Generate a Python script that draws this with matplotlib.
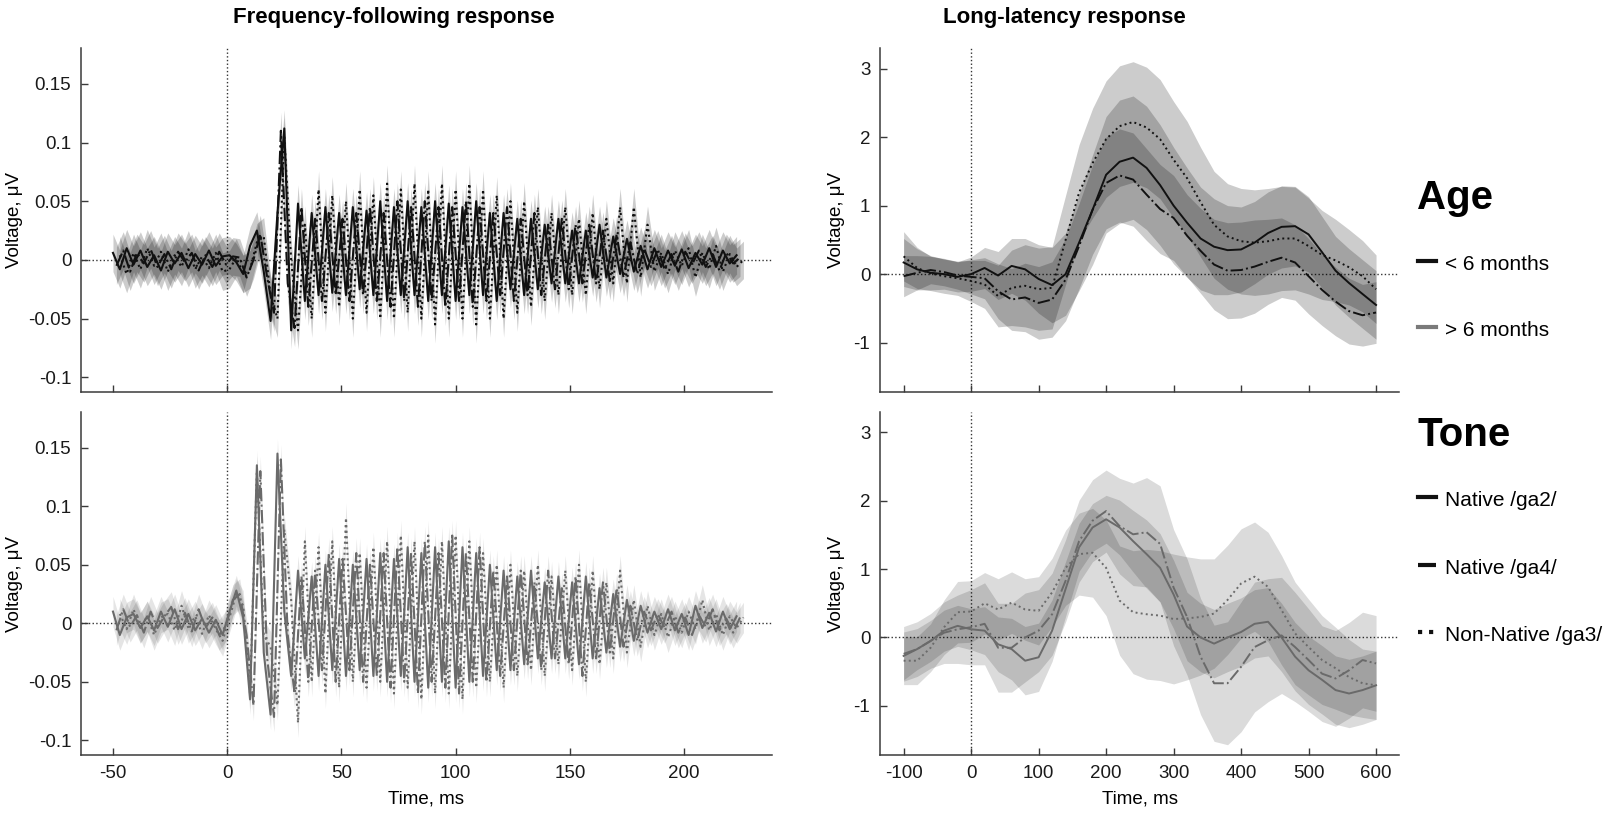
import numpy as np
import matplotlib.pyplot as plt
from matplotlib.lines import Line2D

plt.rcParams['font.family'] = ['Liberation Sans', 'DejaVu Sans']
plt.rcParams['axes.unicode_minus'] = False

# ---------------- FFR data (values every 3 ms, tones start at slightly different times) ----------------
ffr_step = 3.0
ffr_start = {'ga2': -50.0, 'ga4': -48.5, 'ga3': -47.0}

# < 6 months (top row)
ffr_young_ga2 = [0.006, -0.008, 0.01, -0.004, 0.008, -0.006, 0.004, -0.009, 0.007, -0.003, 0.006, -0.007, 0.005, -0.004, 0.008, -0.005, 0.003,
                 0.004, -0.002, -0.012, 0.012, 0.025, -0.01, -0.052, 0.04, 0.112, -0.06,
                 0.048, -0.035, 0.04, -0.03, 0.045, -0.028, 0.04, -0.03, 0.045, -0.025, 0.042, -0.03, 0.05, -0.035, 0.045, -0.03,
                 0.05, -0.03, 0.045, -0.035, 0.05, -0.03, 0.048, -0.035, 0.045, -0.03, 0.05, -0.03, 0.04, -0.035, 0.04, -0.025,
                 0.035, -0.03, 0.035, -0.025, 0.03, -0.02, 0.035, -0.02, 0.025, -0.02, 0.025, -0.015, 0.03, -0.015, 0.02, -0.012,
                 0.018, -0.01, 0.012,
                 -0.008, 0.01, -0.006, 0.008, -0.005, 0.009, -0.007, 0.006, -0.004, 0.01, -0.006, 0.008, -0.003, 0.004]
ffr_young_ga4 = [-0.005, 0.008, -0.01, 0.006, -0.003, 0.009, -0.006, 0.005, -0.008, 0.007, -0.002, 0.006, -0.009, 0.004, -0.006, 0.007, -0.004,
                 0.003, 0.002, -0.015, 0.0, 0.022, -0.015, -0.045, 0.11, -0.02, -0.058,
                 0.045, -0.04, 0.035, -0.035, 0.04, -0.03, 0.035, -0.035, 0.04, -0.03, 0.045, -0.035, 0.04, -0.04, 0.05, -0.035,
                 0.045, -0.04, 0.05, -0.035, 0.045, -0.04, 0.045, -0.035, 0.05, -0.04, 0.045, -0.035, 0.04, -0.03, 0.045, -0.035,
                 0.035, -0.03, 0.04, -0.03, 0.03, -0.025, 0.035, -0.025, 0.03, -0.02, 0.03, -0.02, 0.025, -0.018, 0.022, -0.015,
                 0.015, -0.012, 0.01,
                 -0.006, 0.009, -0.008, 0.005, -0.01, 0.007, -0.004, 0.008, -0.006, 0.005, -0.009, 0.006, -0.003, 0.002]
ffr_young_ga3 = [0.004, -0.012, 0.006, -0.008, 0.01, -0.005, 0.007, -0.01, 0.004, -0.006, 0.009, -0.008, 0.003, -0.007, 0.006, -0.01, -0.008,
                 0.002, -0.012, -0.008, 0.015, 0.02, -0.03, -0.05, 0.105, 0.0, -0.06,
                 0.03, -0.05, 0.06, -0.045, 0.055, -0.04, 0.05, -0.05, 0.06, -0.045, 0.055, -0.05, 0.065, -0.05, 0.06, -0.045,
                 0.065, -0.05, 0.06, -0.055, 0.065, -0.05, 0.06, -0.05, 0.065, -0.055, 0.06, -0.05, 0.055, -0.05, 0.05, -0.045,
                 0.05, -0.04, 0.045, -0.035, 0.04, -0.03, 0.045, -0.03, 0.035, -0.03, 0.04, -0.025, 0.035, -0.02, 0.045, -0.02,
                 0.045, -0.015, 0.03,
                 -0.01, 0.006, -0.012, 0.008, -0.005, 0.01, -0.015, 0.006, -0.008, 0.012, -0.01, 0.005, -0.006, 0.0]

# > 6 months (bottom row)
ffr_old_ga2 = [0.01, -0.01, 0.005, 0.008, -0.004, 0.006, -0.006, 0.01, -0.003, 0.012, -0.005, 0.008, -0.006, 0.004, -0.008, 0.003, -0.01,
               0.01, 0.028, 0.005, -0.065, 0.135, -0.025, -0.078, 0.145, 0.01, -0.045,
               0.045, -0.03, 0.04, -0.045, 0.05, -0.04, 0.055, -0.045, 0.05, -0.04, 0.055, -0.045, 0.06, -0.05, 0.055, -0.045,
               0.065, -0.05, 0.06, -0.055, 0.065, -0.05, 0.07, -0.055, 0.065, -0.05, 0.06, -0.045, 0.05, -0.04, 0.045, -0.04,
               0.04, -0.035, 0.045, -0.03, 0.035, -0.03, 0.04, -0.03, 0.035, -0.035, 0.04, -0.03, 0.03, -0.025, 0.025, -0.02,
               0.02, -0.015, 0.015,
               -0.008, 0.01, -0.005, 0.012, -0.006, 0.008, -0.01, 0.015, -0.004, 0.009, -0.007, 0.01, -0.005, 0.006]
ffr_old_ga4 = [-0.006, 0.012, -0.003, 0.007, -0.008, 0.01, -0.004, 0.006, 0.014, -0.005, 0.009, -0.007, 0.012, -0.004, 0.005, -0.01, -0.002,
               0.02, 0.025, -0.01, -0.07, 0.13, -0.03, -0.08, 0.14, -0.01, -0.06,
               0.04, -0.05, 0.045, -0.04, 0.06, -0.05, 0.055, -0.04, 0.06, -0.05, 0.05, -0.045, 0.06, -0.055, 0.065, -0.05,
               0.06, -0.06, 0.07, -0.05, 0.06, -0.055, 0.075, -0.06, 0.06, -0.05, 0.065, -0.05, 0.045, -0.045, 0.04, -0.04,
               0.045, -0.035, 0.035, -0.04, 0.045, -0.03, 0.03, -0.035, 0.04, -0.045, 0.035, -0.03, 0.035, -0.025, 0.03, -0.02,
               0.015, -0.015, 0.01,
               -0.006, 0.008, -0.004, 0.01, -0.008, 0.005, -0.01, 0.007, -0.003, 0.012, -0.006, 0.004, -0.008, 0.005]
ffr_old_ga3 = [0.008, -0.005, 0.012, -0.004, 0.006, -0.01, 0.005, 0.008, -0.006, 0.015, -0.004, 0.006, -0.009, 0.007, -0.005, -0.015, 0.005,
               0.025, 0.015, -0.06, 0.13, -0.01, -0.02, -0.07, 0.08, 0.02, -0.085,
               0.07, -0.05, 0.065, -0.06, 0.07, -0.055, 0.09, -0.05, 0.06, -0.055, 0.065, -0.05, 0.07, -0.06, 0.075, -0.055,
               0.07, -0.065, 0.075, -0.06, 0.07, -0.06, 0.075, -0.065, 0.07, -0.055, 0.06, -0.05, 0.05, -0.055, 0.05, -0.045,
               0.045, -0.04, 0.05, -0.045, 0.04, -0.035, 0.045, -0.04, 0.05, -0.05, 0.045, -0.035, 0.035, -0.03, 0.045, -0.025,
               0.02, -0.02, 0.015,
               -0.01, 0.008, -0.012, 0.006, -0.008, 0.01, -0.005, 0.02, -0.006, 0.008, -0.01, 0.006, -0.004, 0.005]

ffr_band_young = 0.016
ffr_band_old = 0.013

# ---------------- LLR data (every 20 ms, -100 .. 600 ms) ----------------
llr_t = np.arange(-100, 601, 20)

llr_young_ga2 = [0.17, 0.07, 0.02, 0.0, -0.04, 0.0, 0.09, -0.02, 0.12, 0.07, -0.07, -0.16, 0.0, 0.46, 0.94, 1.45, 1.64, 1.70,
                 1.55, 1.30, 1.0, 0.75, 0.52, 0.40, 0.35, 0.36, 0.46, 0.6, 0.69, 0.70, 0.58, 0.32, 0.05, -0.13, -0.29, -0.45]
llr_young_ga4 = [-0.03, 0.02, 0.06, 0.03, -0.02, -0.04, -0.06, -0.25, -0.37, -0.34, -0.42, -0.37, -0.08, 0.41, 0.94, 1.33, 1.44, 1.38,
                 1.16, 0.95, 0.82, 0.56, 0.34, 0.14, 0.05, 0.06, 0.11, 0.18, 0.24, 0.17, -0.03, -0.23, -0.40, -0.54, -0.60, -0.56]
llr_young_ga3 = [0.26, 0.09, 0.01, -0.03, -0.06, -0.1, -0.15, -0.32, -0.2, -0.17, -0.22, -0.2, 0.5, 1.19, 1.62, 1.97, 2.16, 2.22,
                 2.14, 1.97, 1.67, 1.40, 1.05, 0.72, 0.55, 0.48, 0.46, 0.48, 0.52, 0.52, 0.41, 0.28, 0.2, 0.1, -0.03, -0.22]

llr_young_ga2_se = [0.35, 0.3, 0.25, 0.22, 0.22, 0.25, 0.3, 0.35, 0.4, 0.45, 0.5, 0.55, 0.6, 0.7, 0.8, 0.85, 0.9, 0.9,
                    0.9, 0.88, 0.85, 0.8, 0.75, 0.7, 0.65, 0.62, 0.6, 0.6, 0.6, 0.58, 0.55, 0.52, 0.5, 0.5, 0.5, 0.5]
llr_young_ga4_se = [0.3, 0.25, 0.2, 0.2, 0.2, 0.25, 0.3, 0.4, 0.45, 0.5, 0.53, 0.55, 0.6, 0.62, 0.65, 0.67, 0.68, 0.68,
                    0.67, 0.65, 0.62, 0.6, 0.62, 0.66, 0.7, 0.7, 0.68, 0.62, 0.58, 0.55, 0.55, 0.52, 0.5, 0.48, 0.45, 0.45]
llr_young_ga3_se = [0.36, 0.3, 0.25, 0.25, 0.25, 0.3, 0.35, 0.45, 0.55, 0.6, 0.6, 0.6, 0.65, 0.7, 0.8, 0.85, 0.88, 0.88,
                    0.88, 0.87, 0.85, 0.83, 0.8, 0.78, 0.77, 0.77, 0.77, 0.77, 0.76, 0.75, 0.7, 0.65, 0.6, 0.55, 0.52, 0.5]

llr_old_ga2 = [-0.27, -0.17, -0.05, 0.1, 0.17, 0.12, 0.1, -0.1, -0.17, -0.34, -0.29, 0.1, 0.71, 1.32, 1.61, 1.73, 1.61, 1.41,
               1.22, 1.02, 0.63, 0.16, 0.0, -0.09, 0.0, 0.08, 0.2, 0.23, 0.0, -0.28, -0.48, -0.62, -0.77, -0.82, -0.77, -0.7]
llr_old_ga4 = [-0.24, -0.17, -0.05, 0.07, 0.12, 0.15, 0.2, -0.15, -0.15, 0.0, 0.1, 0.34, 0.83, 1.41, 1.71, 1.85, 1.63, 1.51,
               1.54, 1.37, 0.73, 0.3, -0.28, -0.67, -0.67, -0.43, -0.14, -0.04, 0.03, -0.14, -0.33, -0.53, -0.6, -0.48, -0.33, -0.38]
llr_old_ga3 = [-0.34, -0.34, -0.15, 0.15, 0.37, 0.38, 0.5, 0.41, 0.51, 0.41, 0.39, 0.66, 1.02, 1.22, 1.24, 1.02, 0.54, 0.37,
               0.34, 0.32, 0.27, 0.28, 0.3, 0.35, 0.55, 0.79, 0.89, 0.74, 0.4, 0.06, -0.14, -0.33, -0.45, -0.58, -0.67, -0.7]

llr_old_ga2_se = [0.35, 0.3, 0.3, 0.3, 0.3, 0.3, 0.35, 0.4, 0.45, 0.5, 0.5, 0.45, 0.4, 0.35, 0.35, 0.35, 0.4, 0.45,
                  0.5, 0.5, 0.5, 0.5, 0.5, 0.5, 0.5, 0.5, 0.5, 0.5, 0.5, 0.5, 0.5, 0.5, 0.5, 0.5, 0.5, 0.5]
llr_old_ga4_se = [0.4, 0.4, 0.4, 0.45, 0.5, 0.55, 0.6, 0.65, 0.65, 0.65, 0.6, 0.6, 0.6, 0.6, 0.6, 0.6, 0.7, 0.75,
                  0.8, 0.85, 0.85, 0.85, 0.85, 0.85, 0.9, 0.95, 0.95, 0.9, 0.85, 0.8, 0.75, 0.7, 0.7, 0.7, 0.7, 0.7]
llr_old_ga3_se = [0.35, 0.35, 0.35, 0.4, 0.45, 0.45, 0.45, 0.45, 0.45, 0.45, 0.5, 0.5, 0.55, 0.6, 0.65, 0.7, 0.8, 0.9,
                  0.95, 0.95, 0.95, 0.9, 0.85, 0.8, 0.8, 0.8, 0.8, 0.8, 0.8, 0.75, 0.7, 0.65, 0.6, 0.55, 0.5, 0.5]

tone_labels = ['Native /ga2/', 'Native /ga4/', 'Non-Native /ga3/']
age_labels = ['< 6 months', '> 6 months']
styles = {'ga2': '-', 'ga4': '-.', 'ga3': ':'}

young_col = '#111111'
old_col = '#6a6a6a'
axis_col = '#3a3a3a'

W, H = 1603, 819
fig = plt.figure(figsize=(W / 100, H / 100), dpi=100)


def px_axes(x0, y0, x1, y1):
    return fig.add_axes([x0 / W, 1 - y1 / H, (x1 - x0) / W, (y1 - y0) / H])


def style_axes(ax):
    for s in ['top', 'right']:
        ax.spines[s].set_visible(False)
    for s in ['left', 'bottom']:
        ax.spines[s].set_color(axis_col)
        ax.spines[s].set_linewidth(1.1)
    ax.tick_params(direction='in', length=5, width=1, colors=axis_col, labelcolor='#1a1a1a',
                   labelsize=13.5, pad=7)
    ax.axhline(0, ls=':', color='#333333', lw=1.0, zorder=0.5)
    ax.axvline(0, ls=':', color='#333333', lw=1.0, zorder=0.5)


ax_ffr_y = px_axes(81, 48, 772, 392)
ax_ffr_o = px_axes(81, 412, 772, 755)
ax_llr_y = px_axes(880, 48, 1399, 392)
ax_llr_o = px_axes(880, 412, 1399, 755)

# FFR panels
for ax, series, col, hw, band_alpha in [
        (ax_ffr_y, {'ga2': ffr_young_ga2, 'ga4': ffr_young_ga4, 'ga3': ffr_young_ga3}, young_col, ffr_band_young, 0.2),
        (ax_ffr_o, {'ga2': ffr_old_ga2, 'ga4': ffr_old_ga4, 'ga3': ffr_old_ga3}, old_col, ffr_band_old, 0.1)]:
    for key in ['ga2', 'ga4', 'ga3']:
        v = np.array(series[key])
        t = ffr_start[key] + ffr_step * np.arange(len(v))
        ax.fill_between(t, v - hw, v + hw, color='k', alpha=band_alpha, lw=0)
    for key in ['ga2', 'ga4', 'ga3']:
        v = np.array(series[key])
        t = ffr_start[key] + ffr_step * np.arange(len(v))
        ax.plot(t, v, ls=styles[key], color=col, lw=1.5)
    style_axes(ax)
    ax.set_xlim(-64, 238.5)
    ax.set_ylim(-0.1125, 0.1805)
    ax.set_yticks([-0.1, -0.05, 0, 0.05, 0.1, 0.15])
    ax.set_yticklabels(['-0.1', '-0.05', '0', '0.05', '0.1', '0.15'])
    ax.set_xticks([-50, 0, 50, 100, 150, 200])
    ax.set_ylabel('Voltage, μV', fontsize=13.5, labelpad=4)

ax_ffr_y.set_xticklabels([])
ax_ffr_o.set_xticklabels(['-50', '0', '50', '100', '150', '200'])
ax_ffr_o.set_xlabel('Time, ms', fontsize=13.5, labelpad=6)

# LLR panels
for ax, series, ses, col, band_alpha in [
        (ax_llr_y, {'ga2': llr_young_ga2, 'ga4': llr_young_ga4, 'ga3': llr_young_ga3},
         {'ga2': llr_young_ga2_se, 'ga4': llr_young_ga4_se, 'ga3': llr_young_ga3_se}, young_col, 0.2),
        (ax_llr_o, {'ga2': llr_old_ga2, 'ga4': llr_old_ga4, 'ga3': llr_old_ga3},
         {'ga2': llr_old_ga2_se, 'ga4': llr_old_ga4_se, 'ga3': llr_old_ga3_se}, old_col, 0.14)]:
    for key in ['ga2', 'ga4', 'ga3']:
        v = np.array(series[key])
        se = np.array(ses[key])
        ax.fill_between(llr_t, v - se, v + se, color='k', alpha=band_alpha, lw=0)
    for key in ['ga2', 'ga4', 'ga3']:
        ax.plot(llr_t, series[key], ls=styles[key], color=col, lw=1.4)
    style_axes(ax)
    ax.set_xlim(-135, 634)
    ax.set_ylim(-1.72, 3.3)
    ax.set_yticks([-1, 0, 1, 2, 3])
    ax.set_yticklabels(['-1', '0', '1', '2', '3'])
    ax.set_xticks(np.arange(-100, 601, 100))
    ax.set_ylabel('Voltage, μV', fontsize=13.5, labelpad=6)

ax_llr_y.set_xticklabels([])
ax_llr_o.set_xticklabels([str(v) for v in range(-100, 601, 100)])
ax_llr_o.set_xlabel('Time, ms', fontsize=13.5, labelpad=6)

# column titles
fig.text(394 / W, 1 - 18 / H, 'Frequency-following response', ha='center', va='center',
         fontsize=16, fontweight='bold')
fig.text(1064 / W, 1 - 18 / H, 'Long-latency response', ha='center', va='center',
         fontsize=16, fontweight='bold')


# legend blocks
def legend_line(y_px, color, ls):
    fig.add_artist(Line2D([1418 / W, 1436 / W], [1 - y_px / H, 1 - y_px / H],
                          transform=fig.transFigure, color=color, ls=ls, lw=3))


fig.text(1417 / W, 1 - 209 / H, 'Age', fontsize=29, fontweight='bold', va='baseline')
for label, color, y in zip(age_labels, [young_col, '#7a7a7a'], [261, 327]):
    legend_line(y, color, '-')
    fig.text(1445 / W, 1 - (y + 9) / H, label, fontsize=15, va='baseline')

fig.text(1417 / W, 1 - 446 / H, 'Tone', fontsize=29, fontweight='bold', va='baseline')
for label, key, y in zip(tone_labels, ['ga2', 'ga4', 'ga3'], [497, 565, 632]):
    legend_line(y, young_col, styles[key])
    fig.text(1445 / W, 1 - (y + 9) / H, label, fontsize=15, va='baseline')

plt.savefig('out.png', dpi=100)
